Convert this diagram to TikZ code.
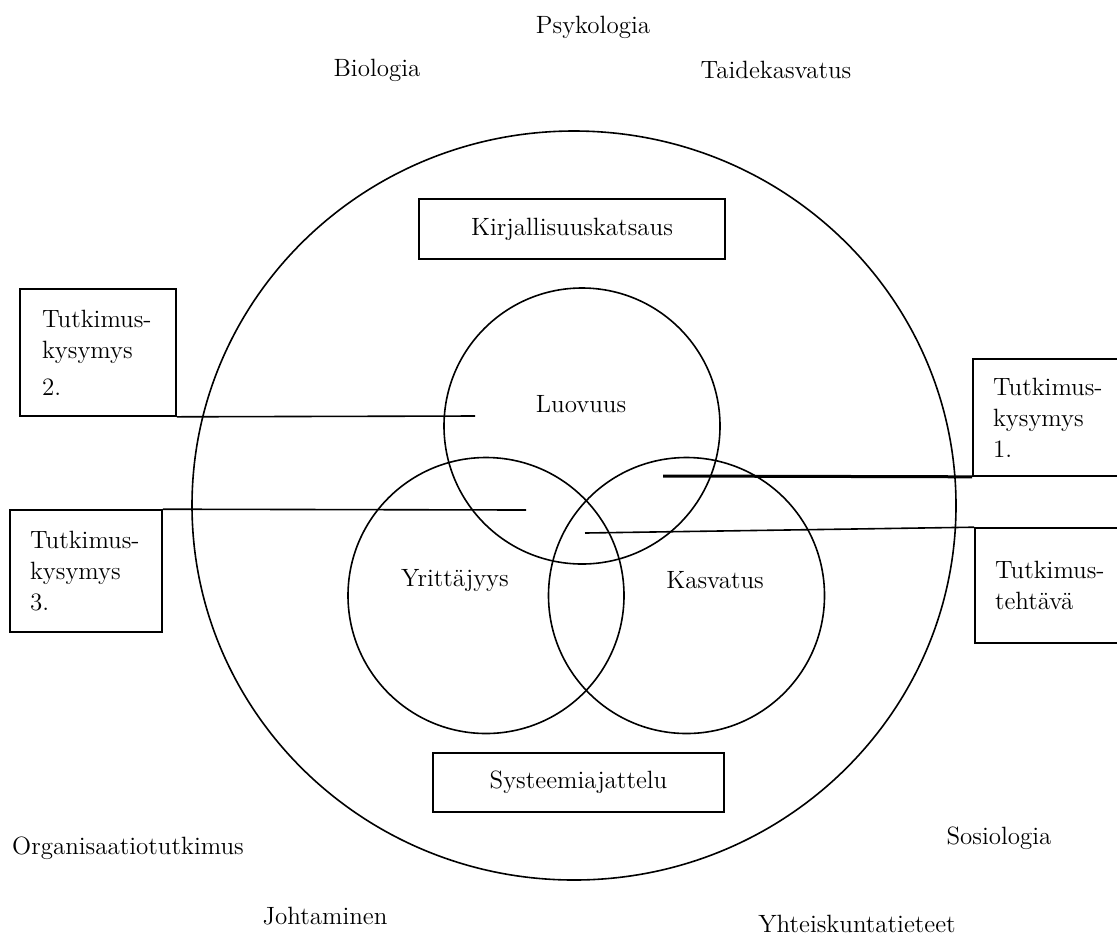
\documentclass[tikz,border=0pt]{standalone}
\usetikzlibrary{shapes.geometric}

\begin{document}
\begin{tikzpicture}[x=0.5pt,y=-0.5pt,
    field/.style={draw=none,font=\fontsize{12.5}{15.5}\selectfont},
    qbox/.style={draw=black,line width=0.8pt,font=\fontsize{12.5}{15.5}\selectfont,align=left,inner ysep=0pt},
    topic/.style={circle,draw=black,line width=0.8pt,minimum size=138pt,inner sep=0pt}]

\useasboundingbox (0,0) rectangle (1117,938);
\clip (0,0) rectangle (1117,938);

\node[field] (psy) at (593,27) {Psykologia};
\node[field] (bio) at (377,70) {Biologia};
\node[field] (tai) at (776,70) {Taidekasvatus};
\node[field] (org) at (128,848) {Organisaatiotutkimus};
\node[field] (sos) at (999,838) {Sosiologia};
\node[field] (joh) at (325,916) {Johtaminen};
\node[field,inner sep=1pt] (yht) at (857,924) {Yhteiskuntatieteet};

\node[ellipse,draw=black,line width=0.8pt,minimum width=382pt,minimum height=374.5pt,inner sep=0pt] (outer) at (574,505.5) {};

\node[draw=black,line width=0.8pt,font=\fontsize{12.5}{15.5}\selectfont,minimum width=153pt,minimum height=30pt] (kir) at (572,229) {Kirjallisuuskatsaus};
\node[draw=black,line width=0.8pt,font=\fontsize{12.5}{15.5}\selectfont,minimum width=145.5pt,minimum height=29.5pt] (sys) at (578.5,782.5) {Systeemiajattelu};

\node[topic] (luo) at (582,426) {};
\node[topic] (yri) at (486,595.5) {};
\node[topic] (kas) at (686.5,595.5) {};
\node[field] (luot) at (581,404) {Luovuus};
\node[field] (yrit) at (455,580) {Yrittäjyys};
\node[field] (kast) at (715,580) {Kasvatus};

\node[qbox,text width=56pt,inner xsep=11pt,minimum height=63.5pt] (q2) at (98,352.5) {Tutkimus-\\kysymys\\[3pt]2.};
\node[qbox,text width=56pt,inner xsep=10pt,minimum height=61pt] (q3) at (86,571) {Tutkimus-\\kysymys\\3.};
\node[qbox,text width=63.5pt,inner xsep=10pt,minimum height=58.5pt] (q1) at (1056.5,417.5) {Tutkimus-\\kysymys\\1.};
\node[qbox,text width=62.5pt,inner xsep=10pt,minimum height=57.5pt] (task) at (1057.5,585.5) {Tutkimus-\\tehtävä};

\coordinate (q2end) at (475,416);
\coordinate (q3end) at (526,510);
\coordinate (q1end) at (663,476);
\coordinate (taskend) at (585,533);

\draw[line width=0.8pt] (q2.south east) -- (q2end);
\draw[line width=0.8pt] (q3.north east) -- (q3end);
\draw[line width=1.5pt] (q1.south west) -- (q1end);
\draw[line width=0.8pt] (task.north west) -- (taskend);

\end{tikzpicture}
\end{document}
